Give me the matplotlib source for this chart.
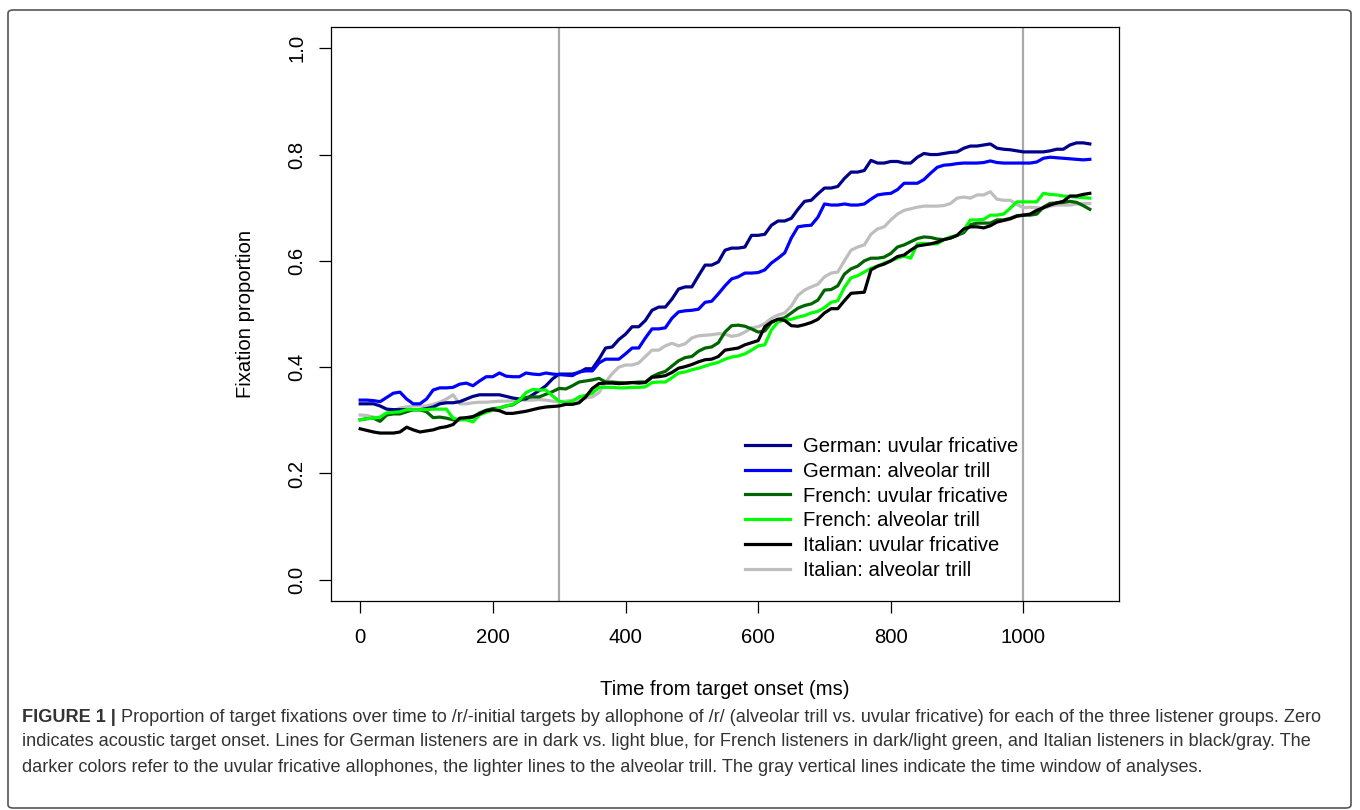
import numpy as np
import matplotlib
matplotlib.use("Agg")
import matplotlib.pyplot as plt
from matplotlib.patches import FancyBboxPatch

plt.rcParams['font.family'] = ['Liberation Sans', 'DejaVu Sans']

# time from target onset, 10 ms bins
time_ms = np.arange(0, 1101, 10)

german_uvular = [
    0.331, 0.331, 0.331, 0.327, 0.321, 0.320, 0.320, 0.320, 0.320, 0.320,
    0.322, 0.325, 0.331, 0.333, 0.333, 0.335, 0.340, 0.345, 0.348, 0.348,
    0.348, 0.348, 0.345, 0.342, 0.340, 0.340, 0.348, 0.356, 0.365, 0.378,
    0.387, 0.387, 0.387, 0.390, 0.397, 0.397, 0.415, 0.436, 0.438, 0.452,
    0.462, 0.476, 0.476, 0.488, 0.507, 0.513, 0.513, 0.528, 0.547, 0.551,
    0.551, 0.572, 0.592, 0.592, 0.598, 0.620, 0.624, 0.624, 0.626, 0.648,
    0.648, 0.650, 0.667, 0.675, 0.675, 0.680, 0.697, 0.712, 0.714, 0.726,
    0.737, 0.737, 0.740, 0.755, 0.767, 0.767, 0.770, 0.789, 0.784, 0.784,
    0.787, 0.787, 0.784, 0.784, 0.795, 0.802, 0.800, 0.800, 0.802, 0.804,
    0.805, 0.812, 0.816, 0.816, 0.818, 0.820, 0.812, 0.810, 0.809, 0.807,
    0.805, 0.805, 0.805, 0.805, 0.807, 0.810, 0.810, 0.818, 0.822, 0.822,
    0.820]

german_trill = [
    0.338, 0.338, 0.337, 0.335, 0.343, 0.351, 0.353, 0.340, 0.331, 0.331,
    0.340, 0.357, 0.361, 0.361, 0.362, 0.368, 0.370, 0.365, 0.374, 0.382,
    0.382, 0.389, 0.383, 0.382, 0.382, 0.389, 0.387, 0.386, 0.389, 0.387,
    0.386, 0.385, 0.384, 0.391, 0.393, 0.393, 0.408, 0.415, 0.415, 0.415,
    0.425, 0.436, 0.436, 0.455, 0.472, 0.472, 0.474, 0.492, 0.504, 0.506,
    0.507, 0.509, 0.522, 0.524, 0.538, 0.553, 0.566, 0.570, 0.577, 0.577,
    0.578, 0.583, 0.596, 0.605, 0.615, 0.643, 0.664, 0.666, 0.667, 0.682,
    0.707, 0.705, 0.705, 0.707, 0.705, 0.705, 0.707, 0.716, 0.724, 0.726,
    0.727, 0.734, 0.746, 0.746, 0.746, 0.753, 0.765, 0.776, 0.780, 0.781,
    0.783, 0.784, 0.784, 0.784, 0.785, 0.788, 0.785, 0.784, 0.784, 0.784,
    0.784, 0.784, 0.786, 0.793, 0.795, 0.794, 0.793, 0.792, 0.791, 0.790,
    0.791]

french_uvular = [
    0.301, 0.303, 0.304, 0.298, 0.310, 0.312, 0.312, 0.316, 0.320, 0.320,
    0.316, 0.305, 0.306, 0.304, 0.301, 0.301, 0.303, 0.306, 0.314, 0.319,
    0.322, 0.323, 0.327, 0.329, 0.337, 0.343, 0.344, 0.344, 0.349, 0.354,
    0.360, 0.359, 0.365, 0.372, 0.374, 0.376, 0.379, 0.372, 0.372, 0.371,
    0.370, 0.371, 0.372, 0.372, 0.382, 0.388, 0.392, 0.402, 0.412, 0.418,
    0.420, 0.430, 0.436, 0.438, 0.446, 0.466, 0.478, 0.479, 0.477, 0.472,
    0.466, 0.468, 0.484, 0.490, 0.493, 0.502, 0.511, 0.516, 0.519, 0.526,
    0.545, 0.546, 0.553, 0.575, 0.585, 0.590, 0.600, 0.605, 0.605, 0.607,
    0.614, 0.626, 0.630, 0.636, 0.642, 0.645, 0.644, 0.641, 0.640, 0.643,
    0.648, 0.653, 0.668, 0.671, 0.671, 0.671, 0.677, 0.677, 0.680, 0.685,
    0.686, 0.686, 0.688, 0.701, 0.708, 0.709, 0.710, 0.712, 0.710, 0.704,
    0.697]

french_trill = [
    0.301, 0.303, 0.304, 0.306, 0.314, 0.315, 0.316, 0.320, 0.320, 0.320,
    0.320, 0.321, 0.321, 0.321, 0.304, 0.301, 0.301, 0.297, 0.310, 0.315,
    0.319, 0.323, 0.327, 0.330, 0.338, 0.352, 0.358, 0.357, 0.357, 0.346,
    0.336, 0.333, 0.336, 0.344, 0.347, 0.351, 0.362, 0.362, 0.362, 0.361,
    0.361, 0.362, 0.362, 0.363, 0.371, 0.372, 0.372, 0.380, 0.389, 0.391,
    0.395, 0.398, 0.402, 0.406, 0.409, 0.415, 0.419, 0.421, 0.425, 0.432,
    0.440, 0.442, 0.470, 0.485, 0.489, 0.490, 0.494, 0.497, 0.502, 0.505,
    0.512, 0.522, 0.525, 0.550, 0.568, 0.572, 0.579, 0.586, 0.590, 0.596,
    0.600, 0.605, 0.609, 0.605, 0.632, 0.633, 0.632, 0.632, 0.640, 0.645,
    0.648, 0.658, 0.677, 0.677, 0.678, 0.686, 0.686, 0.688, 0.699, 0.711,
    0.711, 0.711, 0.711, 0.727, 0.725, 0.724, 0.722, 0.721, 0.720, 0.719,
    0.718]

italian_uvular = [
    0.284, 0.281, 0.278, 0.276, 0.276, 0.276, 0.278, 0.287, 0.282, 0.278,
    0.280, 0.282, 0.286, 0.288, 0.292, 0.304, 0.305, 0.307, 0.312, 0.318,
    0.320, 0.318, 0.313, 0.313, 0.315, 0.317, 0.320, 0.323, 0.325, 0.326,
    0.327, 0.330, 0.330, 0.333, 0.344, 0.360, 0.369, 0.370, 0.370, 0.369,
    0.370, 0.371, 0.370, 0.371, 0.381, 0.382, 0.384, 0.390, 0.398, 0.401,
    0.405, 0.410, 0.414, 0.415, 0.420, 0.432, 0.434, 0.436, 0.442, 0.446,
    0.450, 0.476, 0.485, 0.490, 0.488, 0.478, 0.477, 0.480, 0.484, 0.490,
    0.502, 0.510, 0.510, 0.525, 0.539, 0.540, 0.541, 0.583, 0.590, 0.594,
    0.600, 0.608, 0.611, 0.620, 0.628, 0.630, 0.632, 0.635, 0.640, 0.643,
    0.648, 0.660, 0.664, 0.664, 0.662, 0.666, 0.673, 0.676, 0.679, 0.684,
    0.686, 0.688, 0.695, 0.700, 0.705, 0.709, 0.712, 0.722, 0.722, 0.725,
    0.727]

italian_trill = [
    0.310, 0.309, 0.306, 0.303, 0.310, 0.318, 0.323, 0.325, 0.327, 0.327,
    0.327, 0.330, 0.334, 0.340, 0.348, 0.331, 0.331, 0.333, 0.334, 0.334,
    0.335, 0.336, 0.336, 0.337, 0.338, 0.338, 0.338, 0.339, 0.338, 0.336,
    0.335, 0.336, 0.338, 0.339, 0.342, 0.344, 0.352, 0.372, 0.388, 0.400,
    0.404, 0.404, 0.408, 0.420, 0.432, 0.432, 0.440, 0.445, 0.440, 0.444,
    0.455, 0.459, 0.460, 0.461, 0.463, 0.462, 0.458, 0.460, 0.466, 0.474,
    0.476, 0.482, 0.492, 0.498, 0.502, 0.515, 0.535, 0.545, 0.551, 0.556,
    0.570, 0.577, 0.579, 0.600, 0.620, 0.626, 0.630, 0.650, 0.660, 0.664,
    0.677, 0.688, 0.695, 0.698, 0.701, 0.703, 0.703, 0.703, 0.704, 0.708,
    0.718, 0.720, 0.718, 0.724, 0.724, 0.730, 0.716, 0.714, 0.714, 0.706,
    0.700, 0.701, 0.700, 0.699, 0.703, 0.705, 0.705, 0.705, 0.707, 0.708,
    0.708]

labels = ["German: uvular fricative", "German: alveolar trill",
          "French: uvular fricative", "French: alveolar trill",
          "Italian: uvular fricative", "Italian: alveolar trill"]
series = [german_uvular, german_trill, french_uvular, french_trill,
          italian_uvular, italian_trill]
colors = ["#00008B", "#0000FF", "#006400", "#00FF00", "#000000", "#BEBEBE"]
window = [300, 1000]

W, H = 1360, 810
fs = 14.6
fig = plt.figure(figsize=(W / 100, H / 100), dpi=100)

# outer frame
frame = FancyBboxPatch((8 / W, 1 - 808 / H), 1343 / W, 798 / H,
                       boxstyle="round,pad=0,rounding_size=0.004",
                       transform=fig.transFigure, facecolor="none",
                       edgecolor="#555555", linewidth=1.2, zorder=-1)
fig.patches.append(frame)

ax = fig.add_axes([331 / W, 1 - 601 / H, 788 / W, 574 / H])

for w in window:
    ax.axvline(w, color="#A9A9A9", linewidth=1.6, zorder=1)

order = [5, 0, 1, 2, 3, 4]
lines = {}
for i in order:
    lines[i], = ax.plot(time_ms, series[i], color=colors[i], linewidth=2.3,
                        label=labels[i], zorder=2)

ax.set_xlim(-44, 1144)
ax.set_ylim(-0.04, 1.04)
ax.set_xticks([0, 200, 400, 600, 800, 1000])
ax.set_yticks([0.0, 0.2, 0.4, 0.6, 0.8, 1.0])
ax.set_yticklabels(["0.0", "0.2", "0.4", "0.6", "0.8", "1.0"], rotation=90,
                   va="center")
ax.tick_params(axis="both", direction="out", length=8.5, width=0.9,
               labelsize=fs)
ax.tick_params(axis="x", pad=11)
ax.tick_params(axis="y", pad=9)
for s in ax.spines.values():
    s.set_linewidth(0.9)

ax.set_xlabel("Time from target onset (ms)", fontsize=fs)
ax.set_ylabel("Fixation proportion", fontsize=fs)
ax.xaxis.set_label_coords(0.5, -(680 - 601) / 574)
ax.yaxis.set_label_coords(-(331 - 255) / 788, 0.5)

leg = ax.legend([lines[i] for i in range(6)], labels, loc="upper left",
                bbox_to_anchor=(745 / W, 1 - 437 / H),
                bbox_transform=fig.transFigure, frameon=False, fontsize=fs,
                handlelength=2.2, handletextpad=0.64, labelspacing=0.285,
                borderpad=0, borderaxespad=0)

# caption
cap_color = "#333333"
cap_size = 13.1
line1_rest = (" Proportion of target fixations over time to /r/-initial targets by "
              "allophone of /r/ (alveolar trill vs. uvular fricative) for each of "
              "the three listener groups. Zero")
line2 = ("indicates acoustic target onset. Lines for German listeners are in dark "
         "vs. light blue, for French listeners in dark/light green, and Italian "
         "listeners in black/gray. The")
line3 = ("darker colors refer to the uvular fricative allophones, the lighter lines "
         "to the alveolar trill. The gray vertical lines indicate the time window "
         "of analyses.")

x0 = 22 / W
t_bold = fig.text(x0, 1 - 717 / H, "FIGURE 1 |", fontsize=cap_size,
                  fontweight="bold", color=cap_color, va="center")
fig.canvas.draw()
bb = t_bold.get_window_extent(renderer=fig.canvas.get_renderer())
fig.text(bb.x1 / W, 1 - 717 / H, line1_rest, fontsize=cap_size,
         color=cap_color, va="center")
fig.text(x0, 1 - 742 / H, line2, fontsize=cap_size, color=cap_color,
         va="center")
fig.text(x0, 1 - 768 / H, line3, fontsize=cap_size, color=cap_color,
         va="center")

fig.savefig("out.png", dpi=100)
